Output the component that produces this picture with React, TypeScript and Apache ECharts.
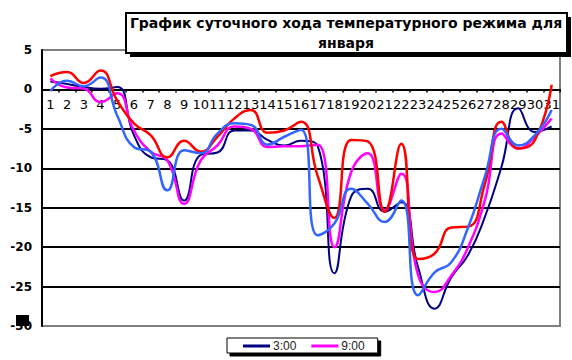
import React, { useEffect, useRef } from "react";
import * as echarts from "echarts";

const days = [
  "1", "2", "3", "4", "5", "6", "7", "8", "9", "10",
  "11", "12", "13", "14", "15", "16", "17", "18", "19", "20",
  "21", "22", "23", "24", "25", "26", "27", "28", "29", "30", "31",
];

const seriesNames = ["3:00", "9:00", "15:00", "21:00"];
const legendNames = ["3:00", "9:00"];

const t03 = [
  1.0, 0.7, 0.3, 0.1, 0.3, -5.8, -8.6, -9.0, -14.1, -8.3,
  -8.0, -5.2, -5.2, -6.4, -7.1, -6.5, -7.2, -23.3, -13.6, -12.6,
  -15.5, -14.3, -22.5, -27.8, -23.8, -21.0, -16.2, -9.8, -2.4, -5.4, -4.7,
];
const t09 = [
  1.4, 0.25, 0.1, -1.6, -0.5, -5.2, -7.9, -9.0, -14.5, -9.0,
  -7.1, -4.7, -5.0, -7.3, -7.2, -7.2, -7.0, -20.0, -10.5, -8.1,
  -15.3, -10.7, -23.5, -25.7, -23.6, -20.0, -14.1, -5.6, -7.5, -6.0, -3.7,
];
const t15 = [
  1.7, 2.2, 0.8, 2.4, -1.4, -4.3, -5.8, -8.6, -6.5, -7.9,
  -6.0, -3.7, -2.6, -5.5, -5.2, -4.1, -11.0, -16.3, -6.4, -6.6,
  -15.5, -6.9, -21.5, -20.8, -17.5, -17.4, -12.0, -4.1, -7.5, -6.4, 0.6,
];
const t21 = [
  -0.2, 1.1, 0.4, 1.5, -3.3, -7.3, -7.9, -12.8, -7.7, -8.1,
  -5.6, -4.3, -4.5, -7.0, -6.0, -5.1, -18.5, -17.0, -12.6, -14.5,
  -16.8, -14.1, -26.1, -23.2, -21.9, -17.5, -11.1, -5.0, -7.1, -5.8, -2.6,
];

const seriesData = [t03, t09, t15, t21];
const seriesColors = ["#000080", "#FF00FF", "#FF0000", "#3366FF"];
const seriesWidths = [2, 2.5, 2.5, 2.5];

const titleLine1 = "График суточного хода температурного режима для";
const titleLine2 = "января";

const Y_MIN = -30;
const Y_MAX = 5;
const GRID_TOP = 50;
const GRID_BOTTOM = 34;
const CHART_H = 360;

export default function App() {
  const ref = useRef<HTMLDivElement>(null);

  useEffect(() => {
    document.body.style.margin = "0";
    const chart = echarts.init(ref.current!, null, { renderer: "svg" });
    const plotH = CHART_H - GRID_TOP - GRID_BOTTOM;
    const zeroOffset = (plotH * Y_MAX) / (Y_MAX - Y_MIN);
    chart.setOption({
      animation: false,
      backgroundColor: "#ffffff",
      grid: {
        left: 42,
        top: GRID_TOP,
        right: 12,
        bottom: GRID_BOTTOM,
        show: true,
        borderColor: "#808080",
        borderWidth: 2,
        backgroundColor: "transparent",
      },
      legend: {
        data: legendNames,
        left: 227,
        top: 338,
        orient: "horizontal",
        icon: "rect",
        itemWidth: 27,
        itemHeight: 3,
        itemGap: 15,
        padding: [2, 13, 1, 16],
        backgroundColor: "#ffffff",
        borderColor: "#000000",
        borderWidth: 1,
        borderRadius: 0,
        shadowColor: "#000000",
        shadowOffsetX: 3,
        shadowOffsetY: 3,
        shadowBlur: 0,
        textStyle: {
          fontFamily: "Liberation Sans",
          fontSize: 12,
          color: "#222222",
          padding: [0, 0, 0, -2],
        },
      },
      xAxis: {
        type: "category",
        data: days,
        boundaryGap: true,
        position: "top",
        offset: -zeroOffset,
        axisLine: { onZero: false, lineStyle: { color: "#000000", width: 2 } },
        axisTick: { show: true, inside: true, length: 3, lineStyle: { color: "#000000", width: 1.5 } },
        axisLabel: {
          inside: true,
          interval: 0,
          margin: 9,
          fontFamily: "DejaVu Sans",
          fontSize: 13,
          color: "#000000",
        },
        splitLine: { show: false },
      },
      yAxis: {
        type: "value",
        min: Y_MIN,
        max: Y_MAX,
        interval: 5,
        axisLine: { show: true, onZero: false, lineStyle: { color: "#000000", width: 2 } },
        axisTick: { show: false },
        axisLabel: {
          margin: 10,
          fontFamily: "DejaVu Sans",
          fontWeight: "bold",
          fontSize: 12,
          color: "#000000",
        },
        splitLine: {
          show: true,
          lineStyle: {
            color: ["#808080", "#000000", "#000000", "#000000", "#000000", "#000000", "#000000", "#808080"],
            width: 2,
          },
        },
      },
      series: seriesNames.map((name, i) => ({
        name,
        type: "line",
        data: seriesData[i],
        smooth: 0.5,
        showSymbol: false,
        symbol: "none",
        lineStyle: { color: seriesColors[i], width: seriesWidths[i] },
        itemStyle: { color: seriesColors[i] },
      })),
      graphic: [
        {
          type: "rect",
          shape: { x: 130, y: 17, width: 441, height: 40 },
          style: { fill: "#000000" },
          z: 100,
        },
        {
          type: "rect",
          shape: { x: 126, y: 13, width: 441, height: 40 },
          style: { fill: "#ffffff", stroke: "#000000", lineWidth: 2 },
          z: 101,
        },
        {
          type: "text",
          x: 346,
          y: 23,
          style: {
            text: titleLine1,
            fontFamily: "DejaVu Sans",
            fontWeight: "bold",
            fontSize: 14,
            fill: "#000000",
            align: "center",
            verticalAlign: "middle",
          },
          z: 102,
        },
        {
          type: "text",
          x: 346,
          y: 43,
          style: {
            text: titleLine2,
            fontFamily: "DejaVu Sans",
            fontWeight: "bold",
            fontSize: 14,
            fill: "#000000",
            align: "center",
            verticalAlign: "middle",
          },
          z: 102,
        },
        {
          type: "rect",
          shape: { x: 16, y: 315, width: 13, height: 11 },
          style: { fill: "#000000" },
          z: 102,
        },
      ],
    });
    return () => chart.dispose();
  }, []);

  return (
    <div
      ref={ref}
      style={{ position: "absolute", left: 0, top: 0, width: 572, height: 360 }}
    />
  );
}
